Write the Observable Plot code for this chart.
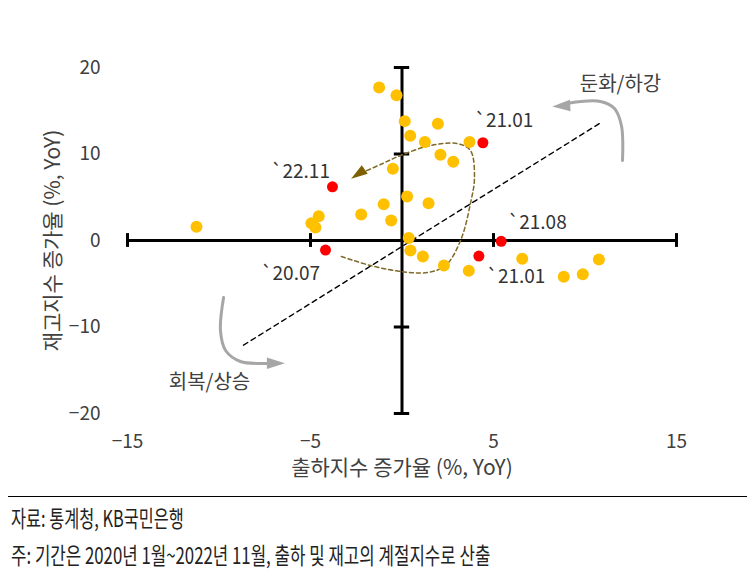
<!DOCTYPE html>
<html><head><meta charset="utf-8">
<script src="https://cdn.jsdelivr.net/npm/d3@7"></script>
<script src="https://cdn.jsdelivr.net/npm/@observablehq/plot@0.6"></script>
<style>
body{margin:0;background:#fff;font-family:"Noto Sans CJK KR","Noto Sans",sans-serif;}
#chart svg{display:block}
#foot{margin:0 7px 0 8px;border-top:1.5px solid #000;padding-top:2px;color:#222;}
#foot div{font-size:23px;line-height:37px;white-space:nowrap;display:block;transform:scaleX(0.71);transform-origin:left center;margin-left:3px}
#foot div.l2{transform:scaleX(0.73)}
</style></head><body><div id="chart"></div>
<div id="foot"><div>자료: 통계청, KB국민은행</div><div class="l2">주: 기간은 2020년 1월~2022년 11월, 출하 및 재고의 계절지수로 산출</div></div>
<script>
// Monthly points (shipments YoY %, inventory YoY %)
const shipX = [-1.25,-0.3,0.15,0.45,1.25,1.96,3.69,2.1,2.8,-0.5,0.28,1.45,-1.0,-2.23,-0.59,-4.55,-4.95,-4.73,-11.23,0.37,0.46,1.14,6.57,10.76,2.29,3.65,8.84,9.88];
const invY  = [17.7,16.8,13.8,12.1,11.4,13.5,11.4,9.9,9.1,8.3,5.1,4.3,4.2,3.0,2.3,2.8,2.0,1.5,1.6,0.3,-1.16,-1.85,-2.1,-2.2,-2.9,-3.5,-4.2,-3.9];
// Highlighted months
const redLabel = ["`22.11","`21.01","`21.08","`20.07","`21.01"];
const redX = [-3.8,4.42,5.42,-4.18,4.2];
const redY = [6.2,11.3,-0.1,-1.1,-1.8];
const xTicks = [-15,-5,5,15];
const yTicks = [-20,-10,10,20];
const yTickLabels = [-20,-10,0,10,20];
// annotation paths (data coordinates)
const trendX = [-8.66,10.85], trendY = [-12.1,13.6];
const loopX = [-3.31,-1.72,-0.08,1.39,2.38,3.20,3.74,3.96,3.74,3.03,1.56,-0.08,-1.17,-2.16];
const loopY = [-1.85,-2.89,-3.58,-3.70,-2.89,0,4.28,7.28,10.4,11.2,10.98,9.83,8.79,7.86];
const upX = [12.05,11.99,11.61,10.85,9.75,8.93];
const upY = [9.25,13.29,15.26,16.07,16.07,15.84];
const downX = [-9.75,-9.92,-9.64,-8.83,-7.62,-7.08];
const downY = [-6.59,-10.40,-12.72,-13.99,-14.22,-14.22];

const pts = shipX.map((x,i)=>({x,y:invY[i]}));
const reds = redX.map((x,i)=>({x,y:redY[i],label:redLabel[i]}));
const tr = trendX.map((x,i)=>({x,y:trendY[i]}));
const loop = loopX.map((x,i)=>({x,y:loopY[i]}));
const up = upX.map((x,i)=>({x,y:upY[i]}));
const down = downX.map((x,i)=>({x,y:downY[i]}));
const labelOffsets = [[-32,-15],[21,-22],[36,-18],[-35,24],[37,21]];
const font = "Noto Sans CJK KR";

// arrowhead symbol: tip at origin, pointing up
const arrowHead = {draw(ctx, size){
  const r = Math.sqrt(size/Math.PI), L = 2.5*r, w = 0.8*r;
  ctx.moveTo(0,0); ctx.lineTo(w, L); ctx.lineTo(-w, L); ctx.closePath();
}};

const chart = Plot.plot({
  width: 754, height: 496,
  marginLeft: 127, marginRight: 78, marginTop: 67, marginBottom: 83,
  style: {fontFamily: font, fontSize: "19px", color: "#404040", background: "#fff"},
  x: {domain: [-15,15], ticks: [-15,-5,5,15], tickSize: 0, tickPadding: 21, tickFormat: d3.format("d"), label: null},
  y: {domain: [-20,20], ticks: yTickLabels, tickSize: 0, tickPadding: 27, tickFormat: d3.format("d"), label: null},
  marks: [
    Plot.ruleY([0], {x1: -15, x2: 15, stroke: "#000", strokeWidth: 3}),
    Plot.ruleX([0], {y1: -20, y2: 20, stroke: "#000", strokeWidth: 3}),
    Plot.ruleX(xTicks, {x: d=>d, y1: -0.8, y2: 0.8, stroke: "#000", strokeWidth: 3}),
    Plot.ruleY(yTicks, {y: d=>d, x1: -0.42, x2: 0.42, stroke: "#000", strokeWidth: 3}),
    Plot.line(tr, {x: "x", y: "y", stroke: "#000", strokeWidth: 1.4, strokeDasharray: "5,4"}),
    Plot.line(loop, {x: "x", y: "y", curve: "catmull-rom", stroke: "#7F6A2A", strokeWidth: 1.5, strokeDasharray: "4,3"}),
    Plot.dot([{x:-2.78,y:7.13}], {x:"x", y:"y", symbol: arrowHead, r: 6.6, fill:"#7F6000", stroke: "none", rotate: -124.5}),
    Plot.line(up, {x: "x", y: "y", curve: "catmull-rom", stroke: "#A6A6A6", strokeWidth: 3}),
    Plot.dot([{x:8.21,y:15.49}], {x:"x", y:"y", symbol: arrowHead, r: 7.2, fill:"#A6A6A6", stroke: "none", rotate: -93}),
    Plot.line(down, {x: "x", y: "y", curve: "catmull-rom", stroke: "#A6A6A6", strokeWidth: 3}),
    Plot.dot([{x:-6.40,y:-14.18}], {x:"x", y:"y", symbol: arrowHead, r: 7.2, fill:"#A6A6A6", stroke: "none", rotate: 90}),
    Plot.dot(pts, {x: "x", y: "y", r: 6, fill: "#FFC000"}),
    Plot.dot(reds, {x: "x", y: "y", r: 5.5, fill: "#FF0000"}),
    ...reds.map((d,i)=>Plot.text([d], {x:"x", y:"y", text:"label", dx: labelOffsets[i][0], dy: labelOffsets[i][1], fontSize: 19, fill: "#333"})),
    Plot.text(["둔화/하강"], {frameAnchor: "top-left", textAnchor: "middle", lineAnchor: "middle", dx: 620-127, dy: 84-67, text: d=>d, fontSize: 20, fill: "#404040"}),
    Plot.text(["회복/상승"], {frameAnchor: "top-left", textAnchor: "middle", lineAnchor: "middle", dx: 209-127, dy: 382-67, text: d=>d, fontSize: 20, fill: "#404040"}),
    Plot.text(["출하지수 증가율 (%, YoY)"], {frameAnchor: "bottom", lineAnchor: "middle", dy: 55, text: d=>d, fontSize: 21, fill: "#404040"}),
    Plot.text(["재고지수 증가율 (%, YoY)"], {frameAnchor: "left", textAnchor: "middle", lineAnchor: "middle", dx: -74, rotate: -90, text: d=>d, fontSize: 21, fill: "#404040"})
  ]
});
document.getElementById("chart").append(chart);
</script>
</body></html>
